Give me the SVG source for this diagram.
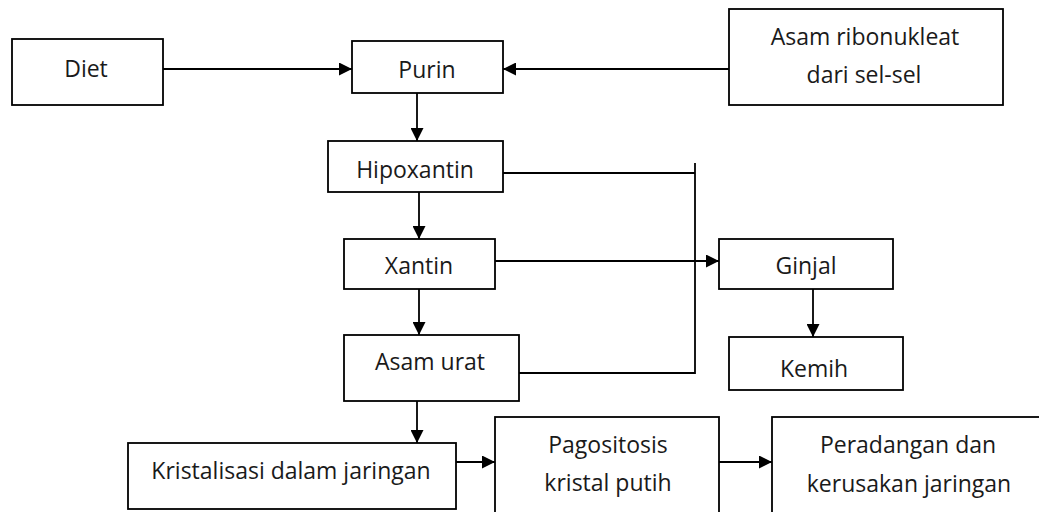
<svg xmlns="http://www.w3.org/2000/svg" width="1039" height="512" viewBox="0 0 1039 512">
<defs>
<style>
.box{fill:#fff;stroke:#000;stroke-width:1.8}
.t{font-family:"Open Sans","Noto Sans","DejaVu Sans",sans-serif;font-size:23px;fill:#1a1a1a;text-anchor:middle}
.c{fill:none;stroke:#000;stroke-width:1.8}
</style>
<marker id="ah" viewBox="0 0 10 10" refX="10" refY="5" markerWidth="13" markerHeight="13" markerUnits="userSpaceOnUse" orient="auto">
<path d="M0,0 L10,5 L0,10 Z" fill="#000"/>
</marker>
</defs>
<rect width="1039" height="512" fill="#fff"/>
<g id="connectors">
<line class="c" x1="163" y1="69" x2="352" y2="69" marker-end="url(#ah)"/>
<line class="c" x1="729" y1="69" x2="503" y2="69" marker-end="url(#ah)"/>
<line class="c" x1="417" y1="93" x2="417" y2="141" marker-end="url(#ah)"/>
<line class="c" x1="419" y1="192" x2="419" y2="239" marker-end="url(#ah)"/>
<line class="c" x1="419" y1="289" x2="419" y2="335" marker-end="url(#ah)"/>
<line class="c" x1="503" y1="173" x2="695" y2="173"/>
<line class="c" x1="695" y1="163" x2="695" y2="374"/>
<line class="c" x1="519" y1="373" x2="695" y2="373"/>
<line class="c" x1="495" y1="261" x2="719" y2="261" marker-end="url(#ah)"/>
<line class="c" x1="813" y1="289" x2="813" y2="337" marker-end="url(#ah)"/>
<line class="c" x1="417" y1="401" x2="417" y2="443" marker-end="url(#ah)"/>
<line class="c" x1="456" y1="462" x2="495" y2="462" marker-end="url(#ah)"/>
<line class="c" x1="719" y1="462" x2="772" y2="462" marker-end="url(#ah)"/>
</g>
<g id="diet"><rect class="box" x="12" y="39" width="151" height="66"/><text class="t" x="86" y="77">Diet</text></g>
<g id="purin"><rect class="box" x="352" y="41" width="151" height="52"/><text class="t" x="427" y="78">Purin</text></g>
<g id="asam-ribonukleat"><rect class="box" x="729" y="9" width="274" height="96"/><text class="t" x="865" y="45">Asam ribonukleat</text><text class="t" x="864" y="83">dari sel-sel</text></g>
<g id="hipoxantin"><rect class="box" x="328" y="141" width="175" height="51"/><text class="t" x="415" y="178">Hipoxantin</text></g>
<g id="xantin"><rect class="box" x="344" y="239" width="151" height="50"/><text class="t" x="419" y="274">Xantin</text></g>
<g id="asam-urat"><rect class="box" x="344" y="335" width="175" height="66"/><text class="t" x="430" y="370">Asam urat</text></g>
<g id="ginjal"><rect class="box" x="719" y="239" width="174" height="50"/><text class="t" x="806" y="274">Ginjal</text></g>
<g id="kemih"><rect class="box" x="729" y="337" width="174" height="53"/><text class="t" x="814" y="377">Kemih</text></g>
<g id="kristalisasi"><rect class="box" x="128" y="443" width="328" height="66"/><text class="t" x="291" y="479">Kristalisasi dalam jaringan</text></g>
<g id="pagositosis"><rect class="box" x="495" y="417" width="224" height="110"/><text class="t" x="608" y="453">Pagositosis</text><text class="t" x="608" y="491">kristal putih</text></g>
<g id="peradangan"><rect class="box" x="772" y="417" width="290" height="110"/><text class="t" x="908" y="453">Peradangan dan</text><text class="t" x="909" y="492">kerusakan jaringan</text></g>
</svg>
